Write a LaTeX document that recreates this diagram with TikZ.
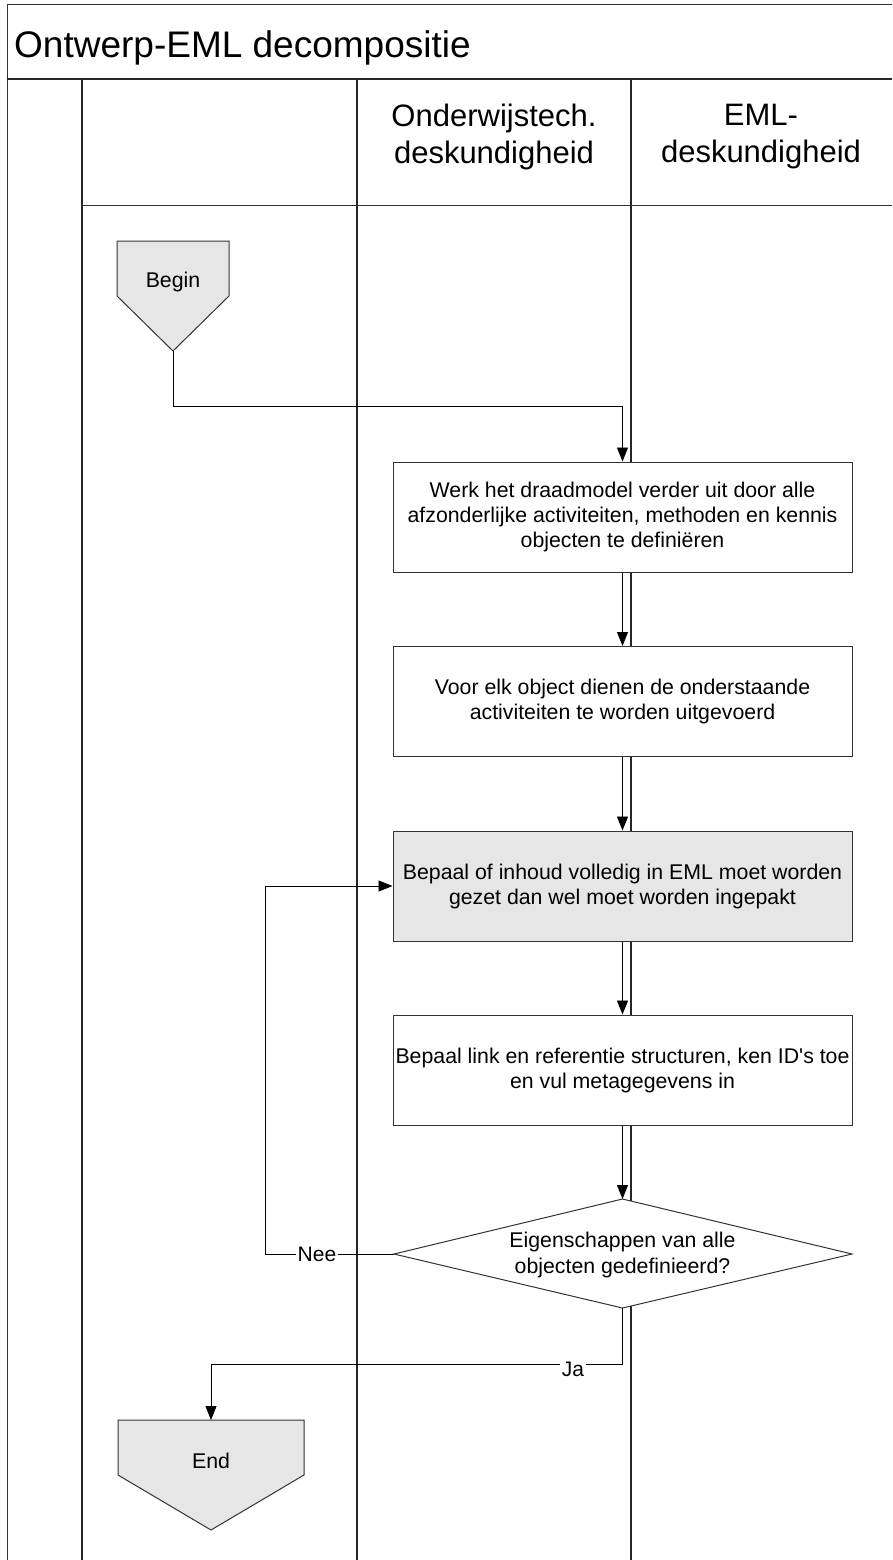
\documentclass[tikz,border=0pt]{standalone}
\usepackage{fontspec}
\setmainfont{Liberation Sans}
\usetikzlibrary{arrows.meta}
\definecolor{termgray}{HTML}{E6E6E6}
\newcommand\sq{\XeTeXglyph\XeTeXcharglyph"27\relax}
\begin{document}
\begin{tikzpicture}[x=1pt,y=-1pt,
  lane/.style={draw=black!85,line width=1.3pt},
  frame/.style={draw=black!80,line width=1pt},
  procbox/.style={draw=black!80,fill=white,line width=1pt,minimum width=459pt,minimum height=110pt,align=center,font=\fontsize{21.3}{25}\selectfont,inner sep=0pt},
  flow/.style={draw=black,line width=0.9pt,-{Triangle[width=11pt,length=14pt]}},
  lbl/.style={font=\fontsize{21}{24}\selectfont,fill=white,inner sep=2pt},
  term/.style={draw=black!80,line width=1pt,fill=termgray},
  txt/.style={font=\fontsize{21.3}{26}\selectfont,align=center,inner sep=0pt},
  head/.style={font=\fontsize{31}{37}\selectfont,align=center,inner sep=0pt}
]
\useasboundingbox (0,0) rectangle (892,1560);
% frame and lanes
\draw[frame] (7,1560) -- (7,5) -- (892,5);
\draw[draw=black!85,line width=2pt] (7,79) -- (892,79);
\draw[lane] (82,79) -- (82,1560);
\draw[lane] (357,79) -- (357,1560);
\draw[lane] (631,79) -- (631,1560);
\draw[frame] (82,205) -- (892,205);
% title and headers
\node[anchor=base west,font=\fontsize{37}{44}\selectfont,inner sep=0pt] (title) at (14,58) {Ontwerp-EML decompositie};
\node[head] (h1) at (494,137) {Onderwijstech.\\deskundigheid};
\node[head] (h2) at (761,137) {EML-\\deskundigheid};
% begin terminator
\draw[term] (117,241) -- (229,241) -- (229,296) -- (173,351) -- (117,296) -- cycle;
\node[txt] (begin) at (173,282) {Begin};
\coordinate (beginTip) at (173,351);
% process boxes
\node[procbox] (box1) at (622.5,517) {Werk het draadmodel verder uit door alle\\afzonderlijke activiteiten, methoden en kennis\\objecten te definiëren};
\node[procbox] (box2) at (622.5,701.5) {Voor elk object dienen de onderstaande\\activiteiten te worden uitgevoerd};
\node[procbox,fill=termgray] (box3) at (622.5,886) {Bepaal of inhoud volledig in EML moet worden\\gezet dan wel moet worden ingepakt};
\node[procbox] (box4) at (622.5,1070) {Bepaal link en referentie structuren, ken ID\sq s toe\\en vul metagegevens in};
% decision
\coordinate (dtop) at (622.5,1199);
\coordinate (dright) at (852,1254);
\coordinate (dbottom) at (622.5,1308);
\coordinate (dleft) at (394,1254);
\draw[frame,fill=white] (dtop) -- (dright) -- (dbottom) -- (dleft) -- cycle;
\node[txt] (dec) at (622.5,1255) {Eigenschappen van alle\\objecten gedefinieerd?};
% end terminator
\draw[term] (118,1420) -- (304,1420) -- (304,1475) -- (211,1530) -- (118,1475) -- cycle;
\node[txt] (endn) at (211,1461) {End};
\coordinate (endTop) at (211,1420);
% connectors
\draw[flow] (beginTip) -- ++(0,55) -| (box1.north);
\draw[flow] (box1.south) -- (box2.north);
\draw[flow] (box2.south) -- (box3.north);
\draw[flow] (box3.south) -- (box4.north);
\draw[flow] (box4.south) -- (dtop);
\coordinate (neeCorner) at (265,1254);
\draw[flow] (dleft) -- (neeCorner) |- (box3.west);
\node[lbl] (nee) at (317,1254) {Nee};
\coordinate (jaCorner) at (622.5,1364);
\draw[flow] (dbottom) -- (jaCorner) -| (endTop);
\node[lbl] (ja) at (573,1369) {Ja};
\end{tikzpicture}
\end{document}
